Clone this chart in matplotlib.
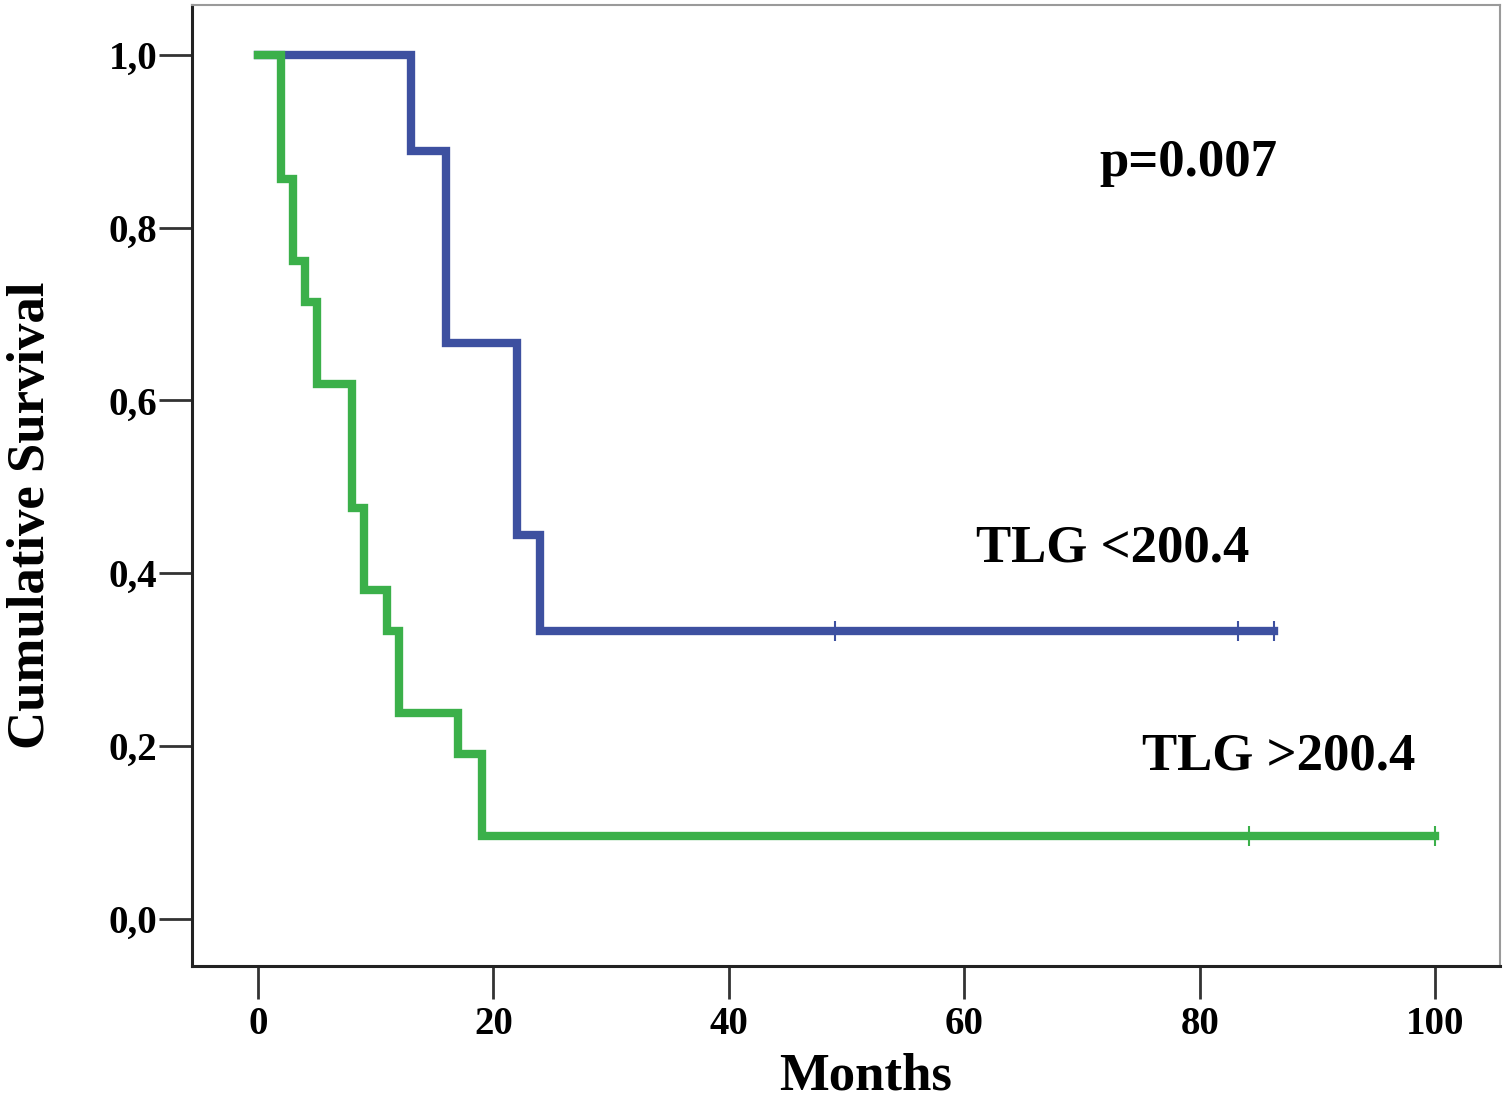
import matplotlib
matplotlib.use("Agg")
import matplotlib.pyplot as plt
from matplotlib.ticker import FuncFormatter

# Kaplan-Meier steps
low_times = [0, 13, 16, 22, 24, 86.3]
low_surv = [1.0, 0.889, 0.667, 0.444, 0.333, 0.333]
low_censor = [49, 83.2, 86.3]

high_times = [0, 2, 3, 4, 5, 8, 9, 11, 12, 17, 19, 100]
high_surv = [1.0, 0.857, 0.762, 0.714, 0.619, 0.476, 0.381, 0.333, 0.238, 0.190, 0.095, 0.095]
high_censor = [84.2, 100]

x_ticks = [0, 20, 40, 60, 80, 100]
y_ticks = [0.0, 0.2, 0.4, 0.6, 0.8, 1.0]

blue = "#3d50a0"
green = "#3bb04a"
serif = ["Liberation Serif", "DejaVu Serif"]

W, H = 1507, 1102
fig = plt.figure(figsize=(W / 100, H / 100), dpi=100)
ax = fig.add_axes([0.1274, 0.1234, 0.8680, 0.8721])

ax.step(low_times, low_surv, where="post", color=blue, lw=6, solid_joinstyle="miter", zorder=2)
ax.step(high_times, high_surv, where="post", color=green, lw=6, solid_joinstyle="miter", zorder=3)

low_c = [low_surv[-1]] * len(low_censor)
high_c = [high_surv[-1]] * len(high_censor)
ax.plot(low_censor, low_c, ls="none", marker="|", ms=14, mew=1.5, color=blue, zorder=4)
ax.plot(high_censor, high_c, ls="none", marker="|", ms=14, mew=1.5, color=green, zorder=4)

ax.set_xlim(-5.6, 105.5)
ax.set_ylim(-0.055, 1.058)
ax.set_xticks(x_ticks)
ax.set_yticks(y_ticks)
ax.yaxis.set_major_formatter(FuncFormatter(lambda v, p: f"{v:.1f}".replace(".", ",")))

ax.tick_params(axis="both", direction="out", length=24, width=2, color="#333333")
ax.tick_params(axis="x", pad=5)
ax.tick_params(axis="y", pad=1)
for lab in ax.get_xticklabels() + ax.get_yticklabels():
    lab.set_family(serif)
    lab.set_fontweight("bold")
    lab.set_fontsize(28)

for side in ("left", "bottom"):
    ax.spines[side].set_color("#222222")
    ax.spines[side].set_linewidth(2.2)
for side in ("top", "right"):
    ax.spines[side].set_color("#9a9a9a")
    ax.spines[side].set_linewidth(1.5)

# axis titles placed in figure pixels to match the reference
fig.text(866 / W, 1 - 1090 / H, "Months", family=serif, fontweight="bold", fontsize=38,
         ha="center", va="baseline")
fig.text(44 / W, 1 - 515 / H, "Cumulative Survival", family=serif, fontweight="bold",
         fontsize=38, rotation=90, rotation_mode="anchor", ha="center", va="baseline")

ax.text(79.0, 0.875, "p=0.007", family=serif, fontweight="bold", fontsize=38,
        ha="center", va="center")
ax.text(72.6, 0.429, "TLG <200.4", family=serif, fontweight="bold", fontsize=38,
        ha="center", va="center")
ax.text(86.7, 0.188, "TLG >200.4", family=serif, fontweight="bold", fontsize=38,
        ha="center", va="center")

fig.savefig("out.png", dpi=100)
